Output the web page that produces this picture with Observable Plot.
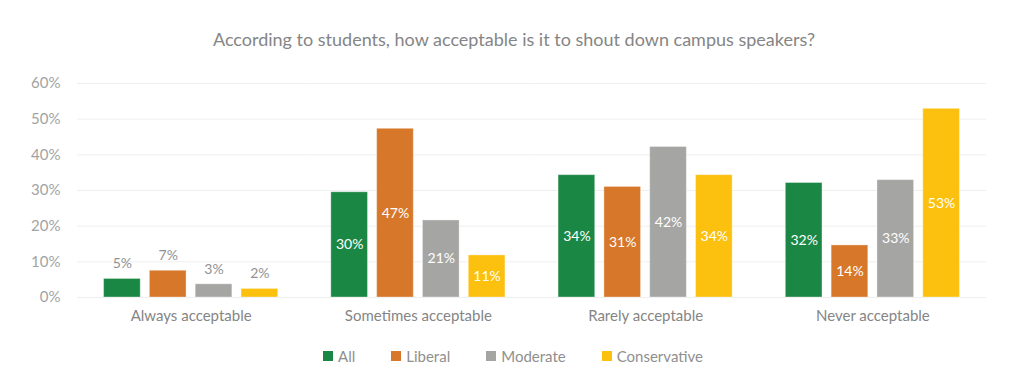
<!DOCTYPE html>
<html>
<head>
<meta charset="utf-8">
<script src="https://cdn.jsdelivr.net/npm/d3@7"></script>
<script src="https://cdn.jsdelivr.net/npm/@observablehq/plot@0.6"></script>
<style>
  html, body { margin: 0; padding: 0; background: #fff; }
  body { width: 1024px; height: 392px; overflow: hidden; font-family: Lato, "Open Sans", sans-serif; }
  #title { height: 70px; line-height: 78px; text-align: center; color: #858585; font-size: 18px; padding-left: 4px; }
  #chart svg { display: block; }
  #legend { display: flex; justify-content: center; gap: 36px; margin-top: 12px; color: #8f8f8f; font-size: 15px; line-height: 18px; padding-left: 2px; }
  #legend span.item { display: inline-flex; align-items: center; }
  #legend i { display: inline-block; width: 10px; height: 10px; margin-right: 5px; }
</style>
</head>
<body>
<div id="title">According to students, how acceptable is it to shout down campus speakers?</div>
<div id="chart"></div>
<div id="legend"></div>
<script>
const categories = ["Always acceptable", "Sometimes acceptable", "Rarely acceptable", "Never acceptable"];
const series = ["All", "Liberal", "Moderate", "Conservative"];
const colors = ["#1b8744", "#d6772a", "#a5a5a3", "#fcc00f"];
// bar heights (percent) per series, in category order
const allValues = [5.2, 29.5, 34.3, 32.1];
const liberalValues = [7.5, 47.3, 31.0, 14.6];
const moderateValues = [3.7, 21.6, 42.2, 32.9];
const conservativeValues = [2.4, 11.8, 34.3, 52.9];
// printed labels
const allLabels = ["5%", "30%", "34%", "32%"];
const liberalLabels = ["7%", "47%", "31%", "14%"];
const moderateLabels = ["3%", "21%", "42%", "33%"];
const conservativeLabels = ["2%", "11%", "34%", "53%"];
const yTicks = [0, 0.1, 0.2, 0.3, 0.4, 0.5, 0.6];

const valueSets = [allValues, liberalValues, moderateValues, conservativeValues];
const labelSets = [allLabels, liberalLabels, moderateLabels, conservativeLabels];
const data = [];
categories.forEach((c, ci) => {
  series.forEach((s, si) => {
    data.push({category: c, series: s, value: valueSets[si][ci] / 100, label: labelSets[si][ci]});
  });
});

const chart = Plot.plot({
  width: 1024,
  height: 265,
  marginTop: 13,
  marginBottom: 38,
  marginLeft: 77,
  marginRight: 38,
  style: {fontFamily: "Lato, 'Open Sans', sans-serif", fontSize: "15px", color: "#a3a3a3"},
  fx: {domain: categories, padding: 0, round: false, axis: "bottom", label: null, tickSize: 0, tickPadding: 13},
  x: {domain: series, paddingInner: 0.2, paddingOuter: 0.58, round: false, axis: null},
  y: {domain: [0, 0.6], ticks: yTicks, tickFormat: d3.format(".0%"), label: null, tickSize: 0, tickPadding: 17},
  color: {domain: series, range: colors},
  marks: [
    Plot.gridY(yTicks, {stroke: "#efefef", strokeOpacity: 1}),
    Plot.barY(data, {fx: "category", x: "series", y: "value", fill: "series", stroke: "#ffffff", strokeOpacity: 0.35, strokeWidth: 1}),
    Plot.text(data.filter(d => d.value >= 0.1), {fx: "category", x: "series", y: d => d.value / 2, text: "label", fill: "white", fontSize: 14}),
    Plot.text(data.filter(d => d.value < 0.1), {fx: "category", x: "series", y: "value", text: "label", fill: "#929292", fontSize: 14, dy: -15})
  ]
});
chart.querySelectorAll("g[aria-label='fx-axis tick label']").forEach(el => el.setAttribute("fill", "#858585"));
document.getElementById("chart").appendChild(chart);

const legend = document.getElementById("legend");
series.forEach((s, i) => {
  const item = document.createElement("span");
  item.className = "item";
  const sw = document.createElement("i");
  sw.style.background = colors[i];
  item.appendChild(sw);
  item.appendChild(document.createTextNode(s));
  legend.appendChild(item);
});
</script>
</body>
</html>
